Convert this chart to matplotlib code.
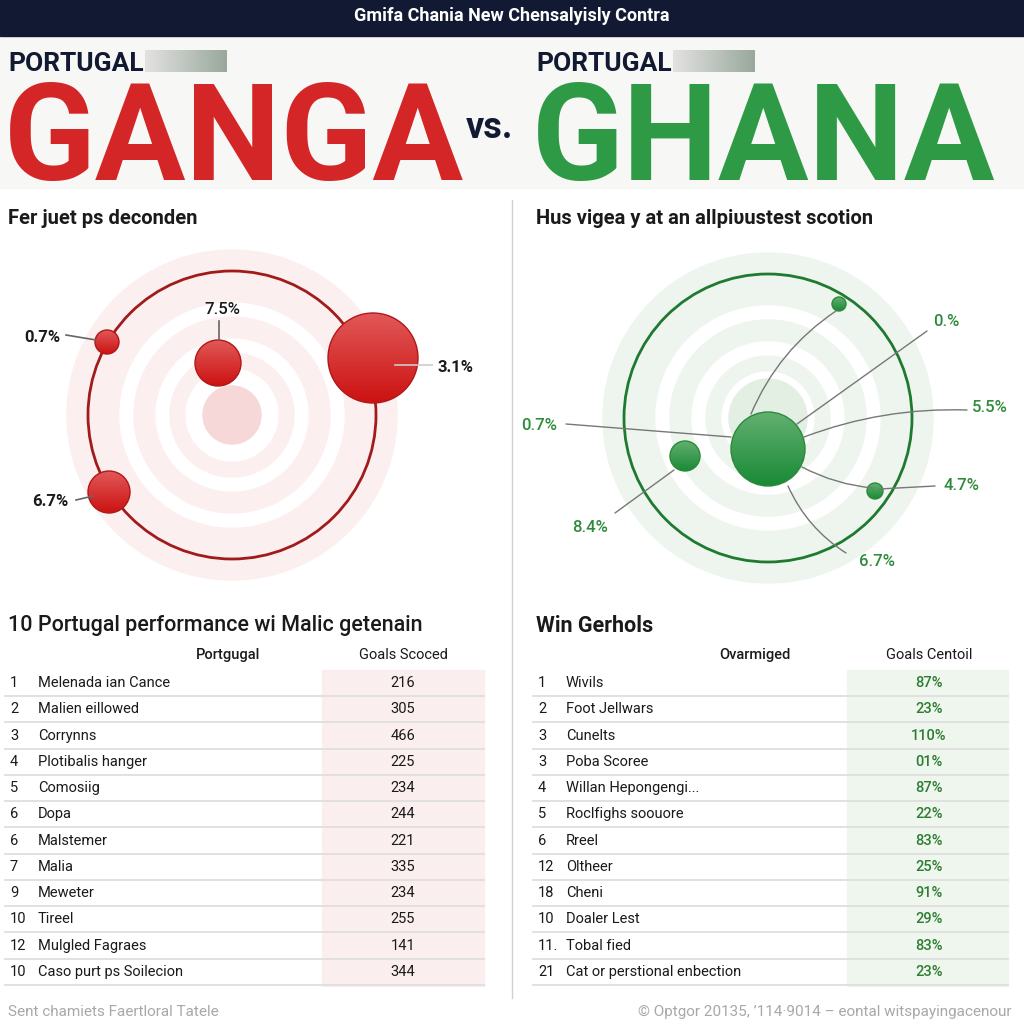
"""
Portugal vs Ghana infographic recreation.
"""

import numpy as np
import matplotlib.pyplot as plt
from matplotlib.patches import Circle, Rectangle
from matplotlib.colors import LinearSegmentedColormap

# ---- data ----
header_title = 'Gmifa Chania New Chensalyisly Contra'
team_left = 'GANGA'
team_right = 'GHANA'
team_tag = 'PORTUGAL'

left_chart_title = 'Fer juet ps deconden'
right_chart_title = 'Hus vigea y at an allpiυustest scotion'

# bubble charts (pixel space of the infographic)
left_bx = [107, 218, 373, 109]
left_by = [342, 363, 358, 492]
left_br = [12, 23, 45, 21]
left_labels = ['0.7%', '7.5%', '3.1%', '6.7%']

right_bx = [768, 685, 839, 875]
right_by = [449, 456, 304, 491]
right_br = [37, 15, 7, 8]
right_labels = ['0.%', '5.5%', '0.7%', '4.7%', '8.4%', '6.7%']

left_table_title = '10 Portugal performance wi Malic getenain'
left_headers = ['Portgugal', 'Goals Scoced']
left_rank = ['1', '2', '3', '4', '5', '6', '6', '7', '9', '10', '12', '10']
left_names = ['Melenada ian Cance', 'Malien eillowed', 'Corrynns', 'Plotibalis hanger',
              'Comosiig', 'Dopa', 'Malstemer', 'Malia', 'Meweter', 'Tireel',
              'Mulgled Fagraes', 'Caso purt ps Soilecion']
left_goals = ['216', '305', '466', '225', '234', '244', '221', '335', '234', '255', '141', '344']

right_table_title = 'Win Gerhols'
right_headers = ['Ovarmiged', 'Goals Centoil']
right_rank = ['1', '2', '3', '3', '4', '5', '6', '12', '18', '10', '11.', '21']
right_names = ['Wivils', 'Foot Jellwars', 'Cunelts', 'Poba Scoree', 'Willan Hepongengi...',
               'Roclfighs soouore', 'Rreel', 'Oltheer', 'Cheni', 'Doaler Lest',
               'Tobal fied', 'Cat or perstional enbection']
right_pct = ['87%', '23%', '110%', '01%', '87%', '22%', '83%', '25%', '91%', '29%', '83%', '23%']

footer_left = 'Sent chamiets Faertloral Tatele'
footer_right = '© Optgor 20135, \u2019114·9014 – eontal witspayingacenour'

RED = '#d42626'
GREEN = '#2f9a46'
NAVY = '#121a33'
TXT = '#1a1a1a'
BODY = ['Roboto', 'DejaVu Sans']

red_cmap = LinearSegmentedColormap.from_list('r', ['#e25858', '#cc1212'])
green_cmap = LinearSegmentedColormap.from_list('g', ['#62b070', '#1a8a36'])
bar_cmap = LinearSegmentedColormap.from_list('b', ['#e2e2e2', '#9aa89b'])

fig = plt.figure(figsize=(10.24, 10.24), dpi=100)
ax = fig.add_axes([0, 0, 1, 1])
ax.set_xlim(0, 1024)
ax.set_ylim(1024, 0)
ax.axis('off')

# header band
ax.add_patch(Rectangle((0, 0), 1024, 36, color=NAVY, zorder=1))
ax.text(512, 16, header_title, color='white', fontsize=13, fontweight='bold',
        family=BODY, ha='center', va='center', zorder=2)
ax.add_patch(Rectangle((0, 36), 1024, 152, color='#f7f7f5', zorder=0))

# team names
grad = np.linspace(0, 1, 100).reshape(1, -1)
for x0, name, col in [(8, team_left, RED), (536, team_right, GREEN)]:
    ax.text(x0, 64, team_tag, color=NAVY, fontsize=19, fontweight='bold',
            family=BODY, ha='left', va='center', zorder=3)
    ax.imshow(grad, cmap=bar_cmap, extent=(x0 + 137, x0 + 219, 72, 50),
              aspect='auto', zorder=2)
    ax.text(x0 - 4, 180, name, color=col, fontsize=97, fontweight='bold',
            family=BODY, ha='left', va='baseline', zorder=3)
ax.text(489, 128, 'vs.', color=NAVY, fontsize=26, fontweight='bold',
        family=BODY, ha='center', va='center', zorder=3)

# divider
ax.plot([512, 512], [200, 998], color='#d0d0d0', lw=1, zorder=1)

# section titles
ax.text(8, 218, left_chart_title, fontsize=14.5, fontweight='bold', family=BODY,
        color=TXT, ha='left', va='center')
ax.text(536, 218, right_chart_title, fontsize=14.5, fontweight='bold', family=BODY,
        color=TXT, ha='left', va='center')


def target(cx, cy, pale, ring, core, core_r):
    bands = [(165, pale), (112, 'white'), (98, pale), (76, 'white'), (62, pale), (46, 'white')]
    for r, c in bands:
        ax.add_patch(Circle((cx, cy), r, color=c, zorder=1))
    ax.add_patch(Circle((cx, cy), core_r, color=core, zorder=1))
    ax.add_patch(Circle((cx, cy), 144, fill=False, ec=ring, lw=2, zorder=2))


def bubble(x, y, r, cmap, edge):
    vgrad = np.linspace(0, 1, 100).reshape(-1, 1)
    im = ax.imshow(vgrad, cmap=cmap, extent=(x - r, x + r, y + r, y - r),
                   aspect='auto', zorder=4)
    c = Circle((x, y), r, fc='none', ec=edge, lw=1, zorder=4.5)
    ax.add_patch(c)
    im.set_clip_path(c)


# left bubble chart
target(232, 415, '#fcefef', '#a01c1c', '#f6d8d8', 29)
for x, y, r in zip(left_bx, left_by, left_br):
    bubble(x, y, r, red_cmap, '#b01818')
left_txt = [(42, 337, 'bold'), (222, 309, 'medium'), (455, 367, 'bold'), (50, 501, 'bold')]
left_lead = [((66, 335), (96, 340), '#666666'), ((219, 321), (219, 340), '#666666'),
             ((395, 365), (432, 365), '#cccccc'), ((76, 500), (93, 496), '#666666')]
for lab, (tx, ty, fw), (p0, p1, lc) in zip(left_labels, left_txt, left_lead):
    ax.text(tx, ty, lab, fontsize=12, fontweight=fw, family=BODY, color=TXT,
            ha='center', va='center', zorder=6)
    ax.plot([p0[0], p1[0]], [p0[1], p1[1]], color=lc, lw=1.2, zorder=5)

# right bubble chart
target(768, 418, '#eef5ee', '#1e7a30', '#e2efe2', 39)
for x, y, r in zip(right_bx, right_by, right_br):
    bubble(x, y, r, green_cmap, '#2a8a3a')
right_txt = [(946, 322), (990, 408), (539, 425), (961, 485), (590, 528), (877, 561)]
right_lead = [((927, 331), (797, 424), 0.0), ((967, 410), (804, 437), 0.1),
              ((566, 424), (731, 437), 0.0), ((935, 486), (879, 489), 0.0),
              ((615, 513), (674, 470), 0.0), ((846, 553), (788, 486), -0.15)]
for lab, (tx, ty), (p0, p1, rad) in zip(right_labels, right_txt, right_lead):
    ax.text(tx, ty, lab, fontsize=12, fontweight='medium', family=BODY, color='#2e8b3a',
            ha='center', va='center', zorder=6)
    ax.annotate('', xy=p1, xytext=p0,
                arrowprops=dict(arrowstyle='-', color='#777777', lw=1,
                                connectionstyle=f'arc3,rad={rad}', shrinkA=0, shrinkB=0),
                zorder=5)
for p0, p1, rad in [((836, 311), (751, 414), 0.15), ((802, 467), (873, 488), 0.1)]:
    ax.annotate('', xy=p1, xytext=p0,
                arrowprops=dict(arrowstyle='-', color='#777777', lw=1,
                                connectionstyle=f'arc3,rad={rad}', shrinkA=0, shrinkB=0),
                zorder=5)

# tables
row_y = 683 + np.arange(12) * 26.27


def table(x0, x1, title, title_w, headers, hx, ranks, names, vals, col_x, col_bg, val_col, val_w):
    ax.text(x0, 626, title, fontsize=15.5, fontweight=title_w, family=BODY, color=TXT,
            ha='left', va='center')
    ax.text(hx[0], 655, headers[0], fontsize=10.5, fontweight='medium', family=BODY,
            color=TXT, ha='center', va='center')
    ax.text(hx[1], 655, headers[1], fontsize=10.5, family=BODY, color=TXT,
            ha='center', va='center')
    ax.add_patch(Rectangle((col_x[0], 670), col_x[1] - col_x[0], 316, color=col_bg, zorder=0))
    for y, rk, nm, v in zip(row_y, ranks, names, vals):
        ax.text(x0 + 2, y, rk, fontsize=10.5, family=BODY, color=TXT, ha='left', va='center')
        ax.text(x0 + 30, y, nm, fontsize=10.5, family=BODY, color=TXT, ha='left', va='center')
        ax.text(hx[1], y, v, fontsize=10.5, family=BODY, color=val_col, fontweight=val_w,
                ha='center', va='center')
        ax.plot([x0 - 3, x1], [y + 13, y + 13], color='#dcdcdc', lw=1.2, zorder=1)


table(8, 484, left_table_title, 'medium', left_headers, (228, 403),
      left_rank, left_names, left_goals, (322, 484), '#fbeeee', TXT, 'normal')
table(536, 1008, right_table_title, 'bold', right_headers, (755, 929),
      right_rank, right_names, right_pct, (847, 1008), '#eef6ee', '#2e7d32', 'medium')

# footer
ax.text(8, 1012, footer_left, fontsize=11, family=BODY, color='#a8a8a8', ha='left', va='center')
ax.text(1012, 1012, footer_right, fontsize=11, family=BODY, color='#a8a8a8', ha='right', va='center')

plt.savefig('out.png', dpi=100)
plt.close()
